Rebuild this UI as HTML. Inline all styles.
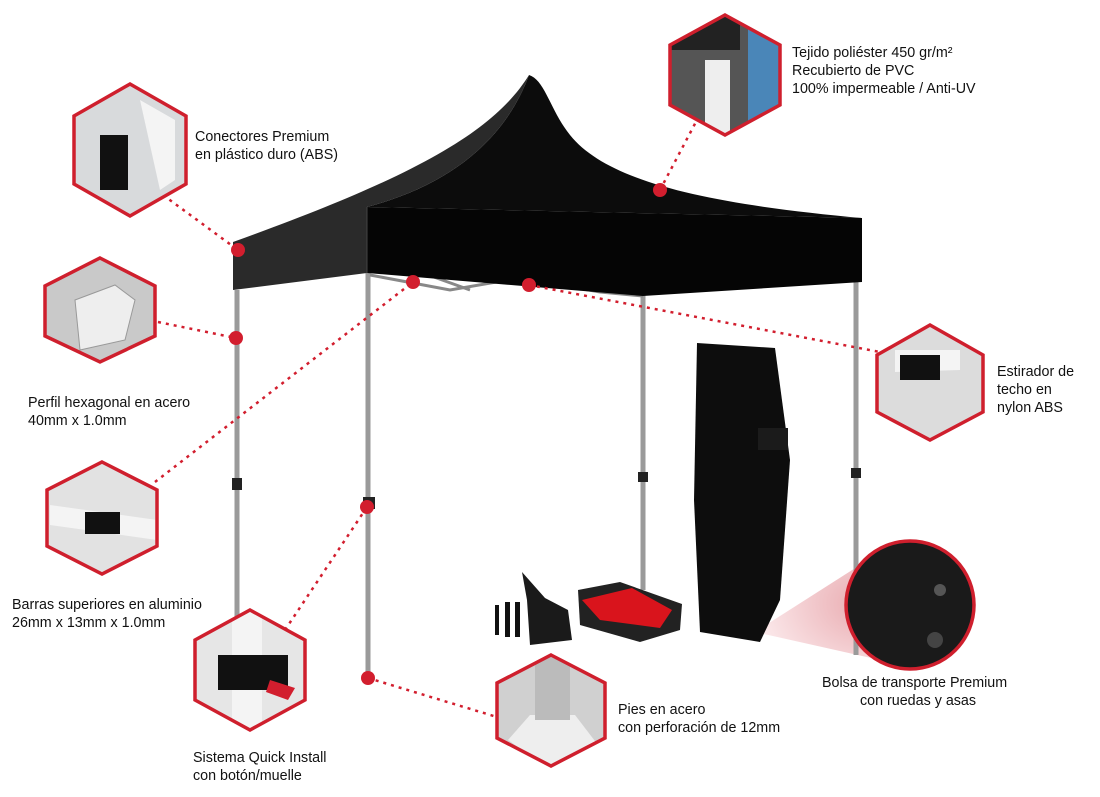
<!DOCTYPE html>
<html><head><meta charset="utf-8"><style>
html,body{margin:0;padding:0;background:#fff;}
svg{display:block}
text{font-family:"Liberation Sans",Arial,sans-serif;font-size:14.3px;fill:#111}
</style></head><body>
<svg width="1100" height="797" viewBox="0 0 1100 797" xmlns="http://www.w3.org/2000/svg">
<defs>
<radialGradient id="cone" cx="0.9" cy="0.4" r="0.9"><stop offset="0" stop-color="#e6a0a6"/><stop offset="1" stop-color="#fbe7e9"/></radialGradient>
<clipPath id="h5"><polygon points="725,15 780,45 780,105 725,135 670,105 670,45"/></clipPath>
<clipPath id="h4"><polygon points="250,610 305,640 305,700 250,730 195,700 195,640"/></clipPath>
<clipPath id="h7"><polygon points="551,655 605,683 605,738 551,766 497,738 497,683"/></clipPath>
<clipPath id="c1"><circle cx="910" cy="605" r="64"/></clipPath>
</defs>
<polygon points="755,632 860,565 880,660" fill="url(#cone)" opacity="0.9"/>

<g stroke="#9a9a9a" stroke-width="5">
<line x1="237" y1="290" x2="237" y2="640"/>
<line x1="368" y1="272" x2="368" y2="680"/>
<line x1="643" y1="295" x2="643" y2="590"/>
<line x1="856" y1="282" x2="856" y2="655"/>
</g>
<g fill="#222"><rect x="232" y="478" width="10" height="12"/><rect x="363" y="497" width="12" height="12"/><rect x="638" y="472" width="10" height="10"/><rect x="851" y="468" width="10" height="10"/></g>
<g stroke="#888" stroke-width="3" fill="none">
<path d="M370,275 L450,290 L520,278 L600,292 L643,296"/>
<path d="M420,272 L470,290 M540,280 L620,290 L700,278"/>
</g>

<path d="M529,75 C545,80 550,110 570,135 C610,185 720,205 862,218 L367,207 C450,185 505,140 529,75 Z" fill="#0c0c0c"/>
<path d="M529,75 C495,130 420,175 233,242 L233,290 L367,273 L367,207 C450,185 505,140 529,75 Z" fill="#2a2a2a"/>
<polygon points="367,207 862,218 862,282 643,296 367,273" fill="#050505"/>
<line x1="367" y1="207" x2="367" y2="273" stroke="#444" stroke-width="1"/>

<polygon points="697,343 775,348 790,460 780,600 760,642 700,632 694,500" fill="#0d0d0d"/>
<rect x="758" y="428" width="30" height="22" fill="#1b1b1b"/>
<g fill="#111"><rect x="495" y="605" width="4" height="30"/><rect x="505" y="602" width="5" height="35"/><rect x="515" y="602" width="5" height="35"/></g>
<polygon points="522,572 545,598 568,610 572,640 530,645 527,600" fill="#1a1a1a"/>
<polygon points="578,590 620,582 682,604 680,630 640,642 580,625" fill="#222"/>
<polygon points="582,600 632,588 672,610 660,628 600,620" fill="#d9141c"/>

<g stroke="#d21e2e" stroke-width="2.5" stroke-dasharray="3,5" fill="none">
<line x1="163" y1="195" x2="238" y2="250"/>
<line x1="158" y1="322" x2="236" y2="338"/>
<line x1="155" y1="482" x2="413" y2="282"/>
<line x1="529" y1="285" x2="880" y2="352"/>
<line x1="660" y1="190" x2="698" y2="118"/>
<line x1="285" y1="630" x2="367" y2="507"/>
<line x1="368" y1="678" x2="497" y2="717"/>
</g>
<g fill="#d21e2e">
<circle cx="238" cy="250" r="7"/><circle cx="236" cy="338" r="7"/><circle cx="413" cy="282" r="7"/>
<circle cx="529" cy="285" r="7"/><circle cx="660" cy="190" r="7"/><circle cx="367" cy="507" r="7"/><circle cx="368" cy="678" r="7"/>
</g>

<g fill="#d8dadc">
<polygon points="130,84 186,116 186,184 130,216 74,184 74,116"/>
<polygon points="100,258 155,286 155,336 100,362 45,336 45,286" fill="#c9c9c9"/>
<polygon points="102,462 157,490 157,546 102,574 47,546 47,490" fill="#e2e2e2"/>
<polygon points="250,610 305,640 305,700 250,730 195,700 195,640" fill="#e6e6e6"/>
<polygon points="725,15 780,45 780,105 725,135 670,105 670,45" fill="#555"/>
<polygon points="930,325 983,355 983,412 930,440 877,412 877,355" fill="#dcdcdc"/>
<polygon points="551,655 605,683 605,738 551,766 497,738 497,683" fill="#d0d0d0"/>
<circle cx="910" cy="605" r="64" fill="#1a1a1a"/>
</g>
<rect x="100" y="135" width="28" height="55" fill="#111"/>
<polygon points="140,100 175,120 175,180 160,190" fill="#f4f4f4"/>
<polygon points="75,300 115,285 135,300 125,340 80,350" fill="#eee" stroke="#999"/>
<polygon points="50,505 157,520 157,540 50,525" fill="#f4f4f4"/>
<rect x="85" y="512" width="35" height="22" fill="#111"/>
<g clip-path="url(#h4)"><rect x="232" y="610" width="30" height="120" fill="#f4f4f4"/><rect x="218" y="655" width="70" height="35" fill="#111"/>
<polygon points="270,680 295,688 288,700 266,692" fill="#d21e2e"/></g>
<g clip-path="url(#h5)"><rect x="748" y="15" width="32" height="120" fill="#4a86b8"/><rect x="670" y="15" width="70" height="35" fill="#222"/><rect x="705" y="60" width="25" height="75" fill="#eee"/></g>
<polygon points="895,350 960,350 960,370 895,372" fill="#f4f4f4"/>
<rect x="900" y="355" width="40" height="25" fill="#111"/>
<g clip-path="url(#c1)"><circle cx="940" cy="590" r="6" fill="#555"/><circle cx="935" cy="640" r="8" fill="#444"/></g>
<g clip-path="url(#h7)"><polygon points="508,740 530,715 575,715 598,745 551,770" fill="#eee"/><rect x="535" y="655" width="35" height="65" fill="#bbb"/></g>
<g fill="none" stroke="#cf1f2d" stroke-width="3.5">
<polygon points="130,84 186,116 186,184 130,216 74,184 74,116"/>
<polygon points="100,258 155,286 155,336 100,362 45,336 45,286"/>
<polygon points="102,462 157,490 157,546 102,574 47,546 47,490"/>
<polygon points="250,610 305,640 305,700 250,730 195,700 195,640"/>
<polygon points="725,15 780,45 780,105 725,135 670,105 670,45"/>
<polygon points="930,325 983,355 983,412 930,440 877,412 877,355"/>
<polygon points="551,655 605,683 605,738 551,766 497,738 497,683"/>
<circle cx="910" cy="605" r="64"/>
</g>

<text x="195" y="141">Conectores Premium</text>
<text x="195" y="159">en plástico duro (ABS)</text>
<g style="font-size:12.8px">
<text x="792" y="57">Tejido poliéster 450 gr/m²</text>
<text x="792" y="75">Recubierto de PVC</text>
<text x="792" y="93">100% impermeable / Anti-UV</text>
</g>
<text x="28" y="407">Perfil hexagonal en acero</text>
<text x="28" y="425">40mm x 1.0mm</text>
<text x="997" y="376">Estirador de</text>
<text x="997" y="394">techo en</text>
<text x="997" y="412">nylon ABS</text>
<text x="12" y="609">Barras superiores en aluminio</text>
<text x="12" y="627">26mm x 13mm x 1.0mm</text>
<text x="822" y="687">Bolsa de transporte Premium</text>
<text x="860" y="705">con ruedas y asas</text>
<text x="618" y="714">Pies en acero</text>
<text x="618" y="732">con perforación de 12mm</text>
<text x="193" y="762">Sistema Quick Install</text>
<text x="193" y="780">con botón/muelle</text>
</svg>
</body></html>
